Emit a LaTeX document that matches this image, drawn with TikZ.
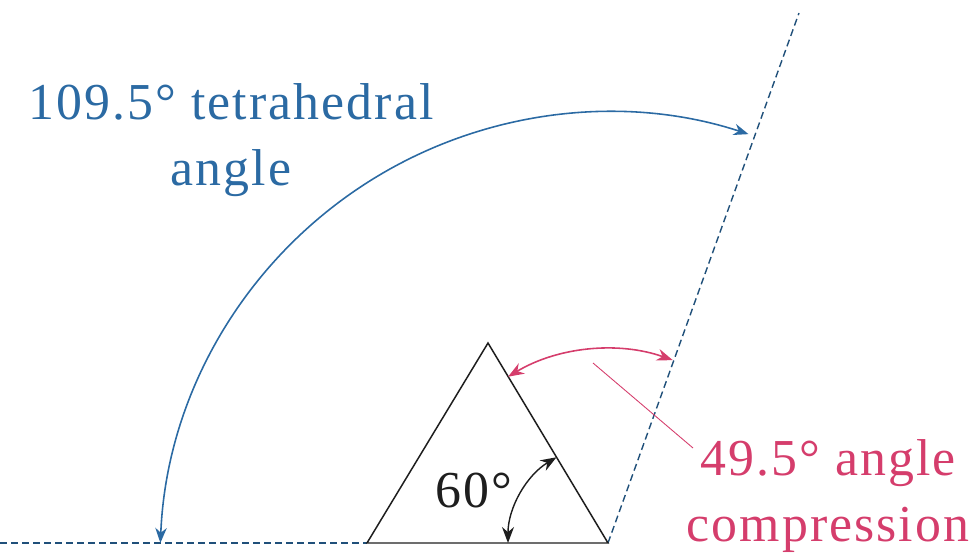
\documentclass[tikz,border=0pt]{standalone}
\usepackage{fontspec}
\setmainfont[LetterSpace=4]{Liberation Serif}
\usepackage{tikz}
\usetikzlibrary{arrows.meta}
\usepackage{xcolor}
\definecolor{tetra}{HTML}{2B6AA3}
\definecolor{strain}{HTML}{D53D6C}
\definecolor{ink}{HTML}{1E1E1E}

\begin{document}
\begin{tikzpicture}[x=0.2mm, y=0.2mm, every node/.style={font=\fontsize{29.5}{37.5}\selectfont},
  guide/.style={tetra!75!black, line width=0.8pt, dash pattern=on 1.4mm off 0.8mm}]
  \useasboundingbox (0,0) rectangle (975,556);
  % ring corners and bond directions
  \coordinate (west) at (0,13);
  \coordinate (left) at (367,13);
  \coordinate (apex) at (488,213);
  \coordinate (right) at (608,13);
  \coordinate (bond) at (799,543);
  \draw[guide] (west) -- (left);
  \draw[guide] (right) -- (bond);
  \draw[ink, line width=0.85pt, line join=miter] (left) -- (apex) -- (right) -- cycle;
  % 60 degree ring angle
  \draw[ink, line width=0.8pt, {Stealth[length=3.2mm,width=2.4mm]}-{Stealth[length=3.2mm,width=2.4mm]}]
    ([shift={(180:100)}]right) arc[start angle=180, end angle=121, radius=100];
  \node[ink, anchor=base] (ring) at (474,49) {60°};
  % tetrahedral angle
  \draw[tetra, line width=0.9pt, {Stealth[length=3mm,width=2.3mm]}-{Stealth[length=3mm,width=2.3mm]}]
    (160.4,13.1) arc[start angle=177.7, end angle=71.9, radius=449];
  \node[tetra, anchor=base] (tetlabel) at (231,436) {109.5° tetrahedral};
  \node[tetra, anchor=base] (tetangle) at (231,370) {angle};
  % angle compression
  \draw[strain, line width=0.9pt, {Stealth[length=3.2mm,width=2.4mm]}-{Stealth[length=3.2mm,width=2.4mm]}]
    ([shift={(121:194)}]right) arc[start angle=121, end angle=70.5, radius=194];
  \node[strain, anchor=base] (strainlabel) at (828,81) {49.5° angle};
  \node[strain, anchor=base] (straincomp) at (828,15) {compression};
  \coordinate (leadtop) at (593,193);
  \coordinate (leadend) at (693,108);
  \draw[strain, line width=0.5pt] (leadtop) -- (leadend);
\end{tikzpicture}
\end{document}
